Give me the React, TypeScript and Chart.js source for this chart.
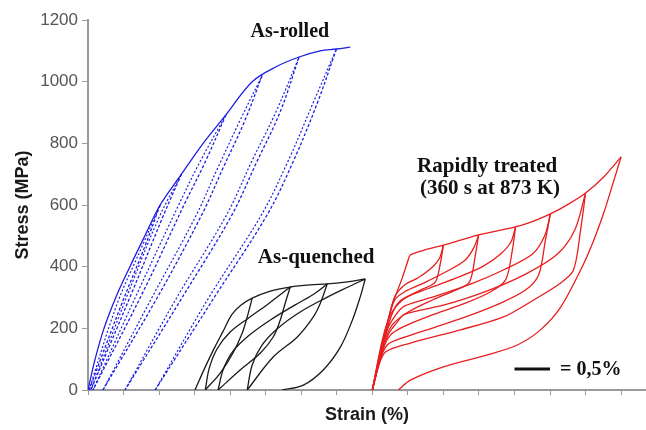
import React, { useEffect, useRef } from "react";
import { Chart, registerables } from "chart.js";
Chart.register(...registerables);

type P = [number, number];

// ---- axes ----
const yTickValues = [0, 200, 400, 600, 800, 1000, 1200];
const xTickValues = [0, 1, 2, 3, 4, 5, 6, 7, 8, 9, 10, 11, 12, 13, 14, 15];
const xMax = 15.7;
const yMax = 1200;

// ---- As-rolled (blue) ----
const rolledEnvelope: P[] = [[0, 0], [0.2, 100], [0.45, 200], [0.8, 305], [1.18, 400], [1.6, 500], [2.03, 600], [2.63, 700], [3.24, 800], [3.88, 892], [4.62, 1000], [5.32, 1050], [5.94, 1080], [6.53, 1100], [6.99, 1106], [7.38, 1112]];
const rolledUnload: P[][] = [
  [[2.03, 600], [1.58, 460], [0.95, 280], [0.03, 0]],
  [[2.63, 700], [2.1, 560], [1.25, 320], [0.08, 0]],
  [[3.88, 892], [3.3, 740], [2.7, 600], [1.6, 330], [0.14, 0]],
  [[4.9, 1020], [4.4, 870], [3.8, 720], [3.2, 568], [1.95, 300], [0.42, 0]],
  [[5.94, 1080], [5.4, 900], [4.75, 740], [4.05, 568], [2.65, 300], [1.04, 0]],
  [[6.99, 1106], [6.45, 930], [5.77, 740], [5.04, 568], [3.55, 300], [1.89, 0]],
];
const rolledReload: P[][] = [
  [[0.03, 0], [0.82, 280], [1.5, 460], [2.03, 600]],
  [[0.08, 0], [1.15, 320], [2.0, 560], [2.63, 700]],
  [[0.14, 0], [1.45, 330], [2.55, 600], [3.15, 740], [3.88, 892]],
  [[0.42, 0], [1.8, 300], [3.05, 568], [3.65, 720], [4.26, 870], [4.9, 1020]],
  [[1.04, 0], [2.5, 300], [3.9, 568], [4.6, 740], [5.28, 900], [5.94, 1080]],
  [[1.89, 0], [3.4, 300], [4.88, 568], [5.62, 740], [6.33, 930], [6.99, 1106]],
];

// ---- As-quenched (black) ----
const quenchedEnvelope: P[] = [[3.01, 0], [3.3, 75], [3.55, 135], [3.8, 190], [4.05, 245], [4.3, 275], [4.62, 298], [5.13, 321], [5.69, 334], [6.25, 341], [6.73, 344], [7.24, 350], [7.8, 360]];
const quenchedUnload: P[][] = [
  [[4.62, 298], [4.48, 237], [4.34, 185], [4.08, 120], [3.72, 55], [3.3, 0]],
  [[5.69, 334], [5.55, 282], [5.41, 227], [5.21, 172], [4.85, 120], [4.28, 65], [3.66, 0]],
  [[6.73, 344], [6.54, 282], [6.34, 237], [5.89, 172], [5.21, 107], [4.48, 0]],
  [[7.8, 360], [7.66, 302], [7.44, 227], [7.1, 139], [6.62, 65], [6.06, 16], [5.46, 0]],
];
const quenchedReload: P[][] = [
  [[3.3, 0], [3.41, 70], [3.63, 133], [4.0, 188], [4.51, 233], [5.07, 279], [5.69, 334]],
  [[3.66, 0], [3.8, 65], [4.06, 123], [4.51, 175], [5.13, 227], [5.83, 276], [6.39, 314], [6.73, 344]],
  [[4.48, 0], [4.62, 81], [4.9, 146], [5.35, 201], [5.97, 253], [6.68, 298], [7.32, 334], [7.8, 360]],
];

// ---- Rapidly treated (red) ----
const treatedEnvelope: P[] = [[8, 0], [8.17, 97], [8.37, 195], [8.56, 276], [8.85, 366], [8.99, 415], [9.07, 438], [9.5, 455], [10.0, 470], [10.48, 486], [10.99, 503], [11.52, 516], [12.03, 529], [12.54, 548], [13.01, 571], [13.52, 603], [14.0, 639], [14.51, 691], [15.0, 756]];
const treatedUnload: P[][] = [
  [[10.0, 470], [9.92, 415], [9.77, 350], [9.35, 324], [8.85, 292], [8.51, 243], [8.28, 162], [8.0, 0]],
  [[10.99, 503], [10.9, 438], [10.73, 350], [10.34, 324], [9.69, 292], [9.01, 253], [8.56, 211], [8.31, 146], [8.0, 0]],
  [[12.03, 529], [11.94, 454], [11.75, 357], [11.32, 318], [10.62, 282], [9.77, 247], [8.93, 208], [8.51, 178], [8.23, 114], [8.0, 0]],
  [[13.01, 571], [12.87, 486], [12.68, 373], [12.31, 324], [11.61, 282], [10.76, 243], [9.77, 204], [8.93, 172], [8.42, 146], [8.17, 81], [8.0, 0]],
  [[14.0, 639], [13.86, 519], [13.66, 389], [13.3, 347], [12.54, 292], [11.69, 237], [10.48, 195], [9.07, 152], [8.37, 123], [8.14, 65], [8.0, 0]],
  [[15.0, 756], [14.76, 666], [14.51, 574], [14.2, 477], [13.86, 389], [13.3, 269], [12.73, 195], [12.08, 146], [11.24, 114], [10.0, 75], [9.07, 32], [8.73, 0]],
];
const treatedReload: P[][] = [
  [[8, 0], [8.2, 97], [8.4, 200], [8.62, 300], [8.9, 340], [9.3, 365], [9.7, 400], [9.9, 430], [10.0, 470]],
  [[8, 0], [8.2, 97], [8.4, 200], [8.62, 290], [8.9, 318], [9.5, 350], [10.1, 385], [10.6, 420], [10.85, 460], [10.99, 503]],
  [[8, 0], [8.2, 97], [8.42, 200], [8.65, 270], [8.9, 298], [9.6, 330], [10.4, 365], [11.1, 400], [11.6, 440], [11.9, 480], [12.03, 529]],
  [[8, 0], [8.2, 97], [8.42, 195], [8.67, 245], [8.9, 272], [9.8, 305], [10.8, 345], [11.7, 390], [12.5, 440], [12.85, 500], [13.01, 571]],
  [[8, 0], [8.22, 97], [8.45, 180], [8.7, 220], [8.9, 245], [10.0, 275], [11.2, 320], [12.3, 375], [13.2, 440], [13.7, 520], [14.0, 639]],
];

// ---- scale bar (0.5 % strain) ----
const scaleBar: P[] = [[12.0, 68], [13.0, 68]];

// ---- annotations ----
const noteTexts = ["As-rolled", "As-quenched", "Rapidly treated", "(360 s at 873 K)", "= 0,5%"];
const noteX = [5.68, 6.42, 11.23, 11.31, 13.28];
const noteY = [1161, 428, 723, 652, 65];
const noteSize = [20, 21, 21, 21, 20];
const noteAlign: CanvasTextAlign[] = ["center", "center", "center", "center", "left"];

const BLUE = "rgb(30,30,228)";
const BLACK = "#1a1a1a";
const RED = "rgb(232,30,30)";
const AXIS = "#9a9a9a";

function line(pts: P[], color: string, width: number, dash: number[] = [], tension = 0.35) {
  return {
    data: pts.map(([x, y]) => ({ x, y })),
    borderColor: color,
    backgroundColor: color,
    borderWidth: width,
    borderDash: dash,
    showLine: true,
    pointRadius: 0,
    pointHoverRadius: 0,
    tension,
    fill: false,
  };
}

const notePlugin = {
  id: "notes",
  afterDatasetsDraw(chart: any) {
    const { ctx, scales } = chart;
    ctx.save();
    ctx.fillStyle = "#111";
    ctx.textBaseline = "middle";
    noteTexts.forEach((t, i) => {
      ctx.font = `bold ${noteSize[i]}px 'Liberation Serif', 'Times New Roman', serif`;
      ctx.textAlign = noteAlign[i];
      ctx.fillText(t, scales.x.getPixelForValue(noteX[i]), scales.y.getPixelForValue(noteY[i]));
    });
    ctx.restore();
  },
};

export default function App() {
  const ref = useRef<HTMLCanvasElement>(null);
  useEffect(() => {
    document.body.style.margin = "0";
    const datasets: any[] = [];
    datasets.push(line(rolledEnvelope, BLUE, 1.3, []));
    rolledUnload.forEach((p) => datasets.push(line(p, BLUE, 1.3, [3, 2])));
    rolledReload.forEach((p) => datasets.push(line(p, BLUE, 1.2, [2, 2])));
    datasets.push(line(quenchedEnvelope, BLACK, 1.3));
    quenchedUnload.forEach((p) => datasets.push(line(p, BLACK, 1.3)));
    quenchedReload.forEach((p) => datasets.push(line(p, BLACK, 1.3)));
    datasets.push(line(treatedEnvelope, RED, 1.3, [], 0.25));
    treatedUnload.forEach((p) => datasets.push(line(p, RED, 1.3, [], 0.3)));
    treatedReload.forEach((p) => datasets.push(line(p, RED, 1.3, [], 0.3)));
    datasets.push(line(scaleBar, "#111", 3, [], 0));

    const chart = new Chart(ref.current!, {
      type: "scatter",
      data: { datasets },
      options: {
        responsive: false,
        animation: false,
        devicePixelRatio: 1,
        layout: { padding: { top: 20, right: 0, left: 0, bottom: 0 } },
        plugins: { legend: { display: false }, tooltip: { enabled: false } },
        events: [],
        scales: {
          x: {
            type: "linear",
            min: 0,
            max: xMax,
            afterBuildTicks: (a: any) => {
              a.ticks = xTickValues.map((v) => ({ value: v }));
            },
            afterFit: (s: any) => {
              s.height = 40;
            },
            ticks: { display: false },
            grid: { display: true, drawOnChartArea: false, drawTicks: true, tickLength: 5, color: AXIS, lineWidth: 1 },
            border: { display: true, color: AXIS, width: 2 },
            title: {
              display: true,
              text: "Strain (%)",
              color: "#1a1a1a",
              font: { family: "'Liberation Sans', Arial, sans-serif", size: 18, weight: "bold" },
              padding: { top: 0, bottom: 4 },
            },
          },
          y: {
            type: "linear",
            min: 0,
            max: yMax,
            afterBuildTicks: (a: any) => {
              a.ticks = yTickValues.map((v) => ({ value: v }));
            },
            afterFit: (s: any) => {
              s.width = 88;
            },
            ticks: {
              color: "#555",
              padding: 4,
              font: { family: "'Liberation Sans', Arial, sans-serif", size: 17 },
              callback: (v: any) => String(v),
            },
            grid: { display: true, drawOnChartArea: false, drawTicks: true, tickLength: 6, color: AXIS, lineWidth: 1 },
            border: { display: true, color: AXIS, width: 2 },
            title: {
              display: true,
              text: "Stress (MPa)",
              color: "#1a1a1a",
              font: { family: "'Liberation Sans', Arial, sans-serif", size: 18, weight: "bold" },
              padding: { top: 12, bottom: 0 },
            },
          },
        },
      },
      plugins: [notePlugin],
    } as any);
    return () => chart.destroy();
  }, []);
  return (
    <div style={{ width: 646, height: 430 }}>
      <canvas ref={ref} width={646} height={430} style={{ display: "block" }} />
    </div>
  );
}
